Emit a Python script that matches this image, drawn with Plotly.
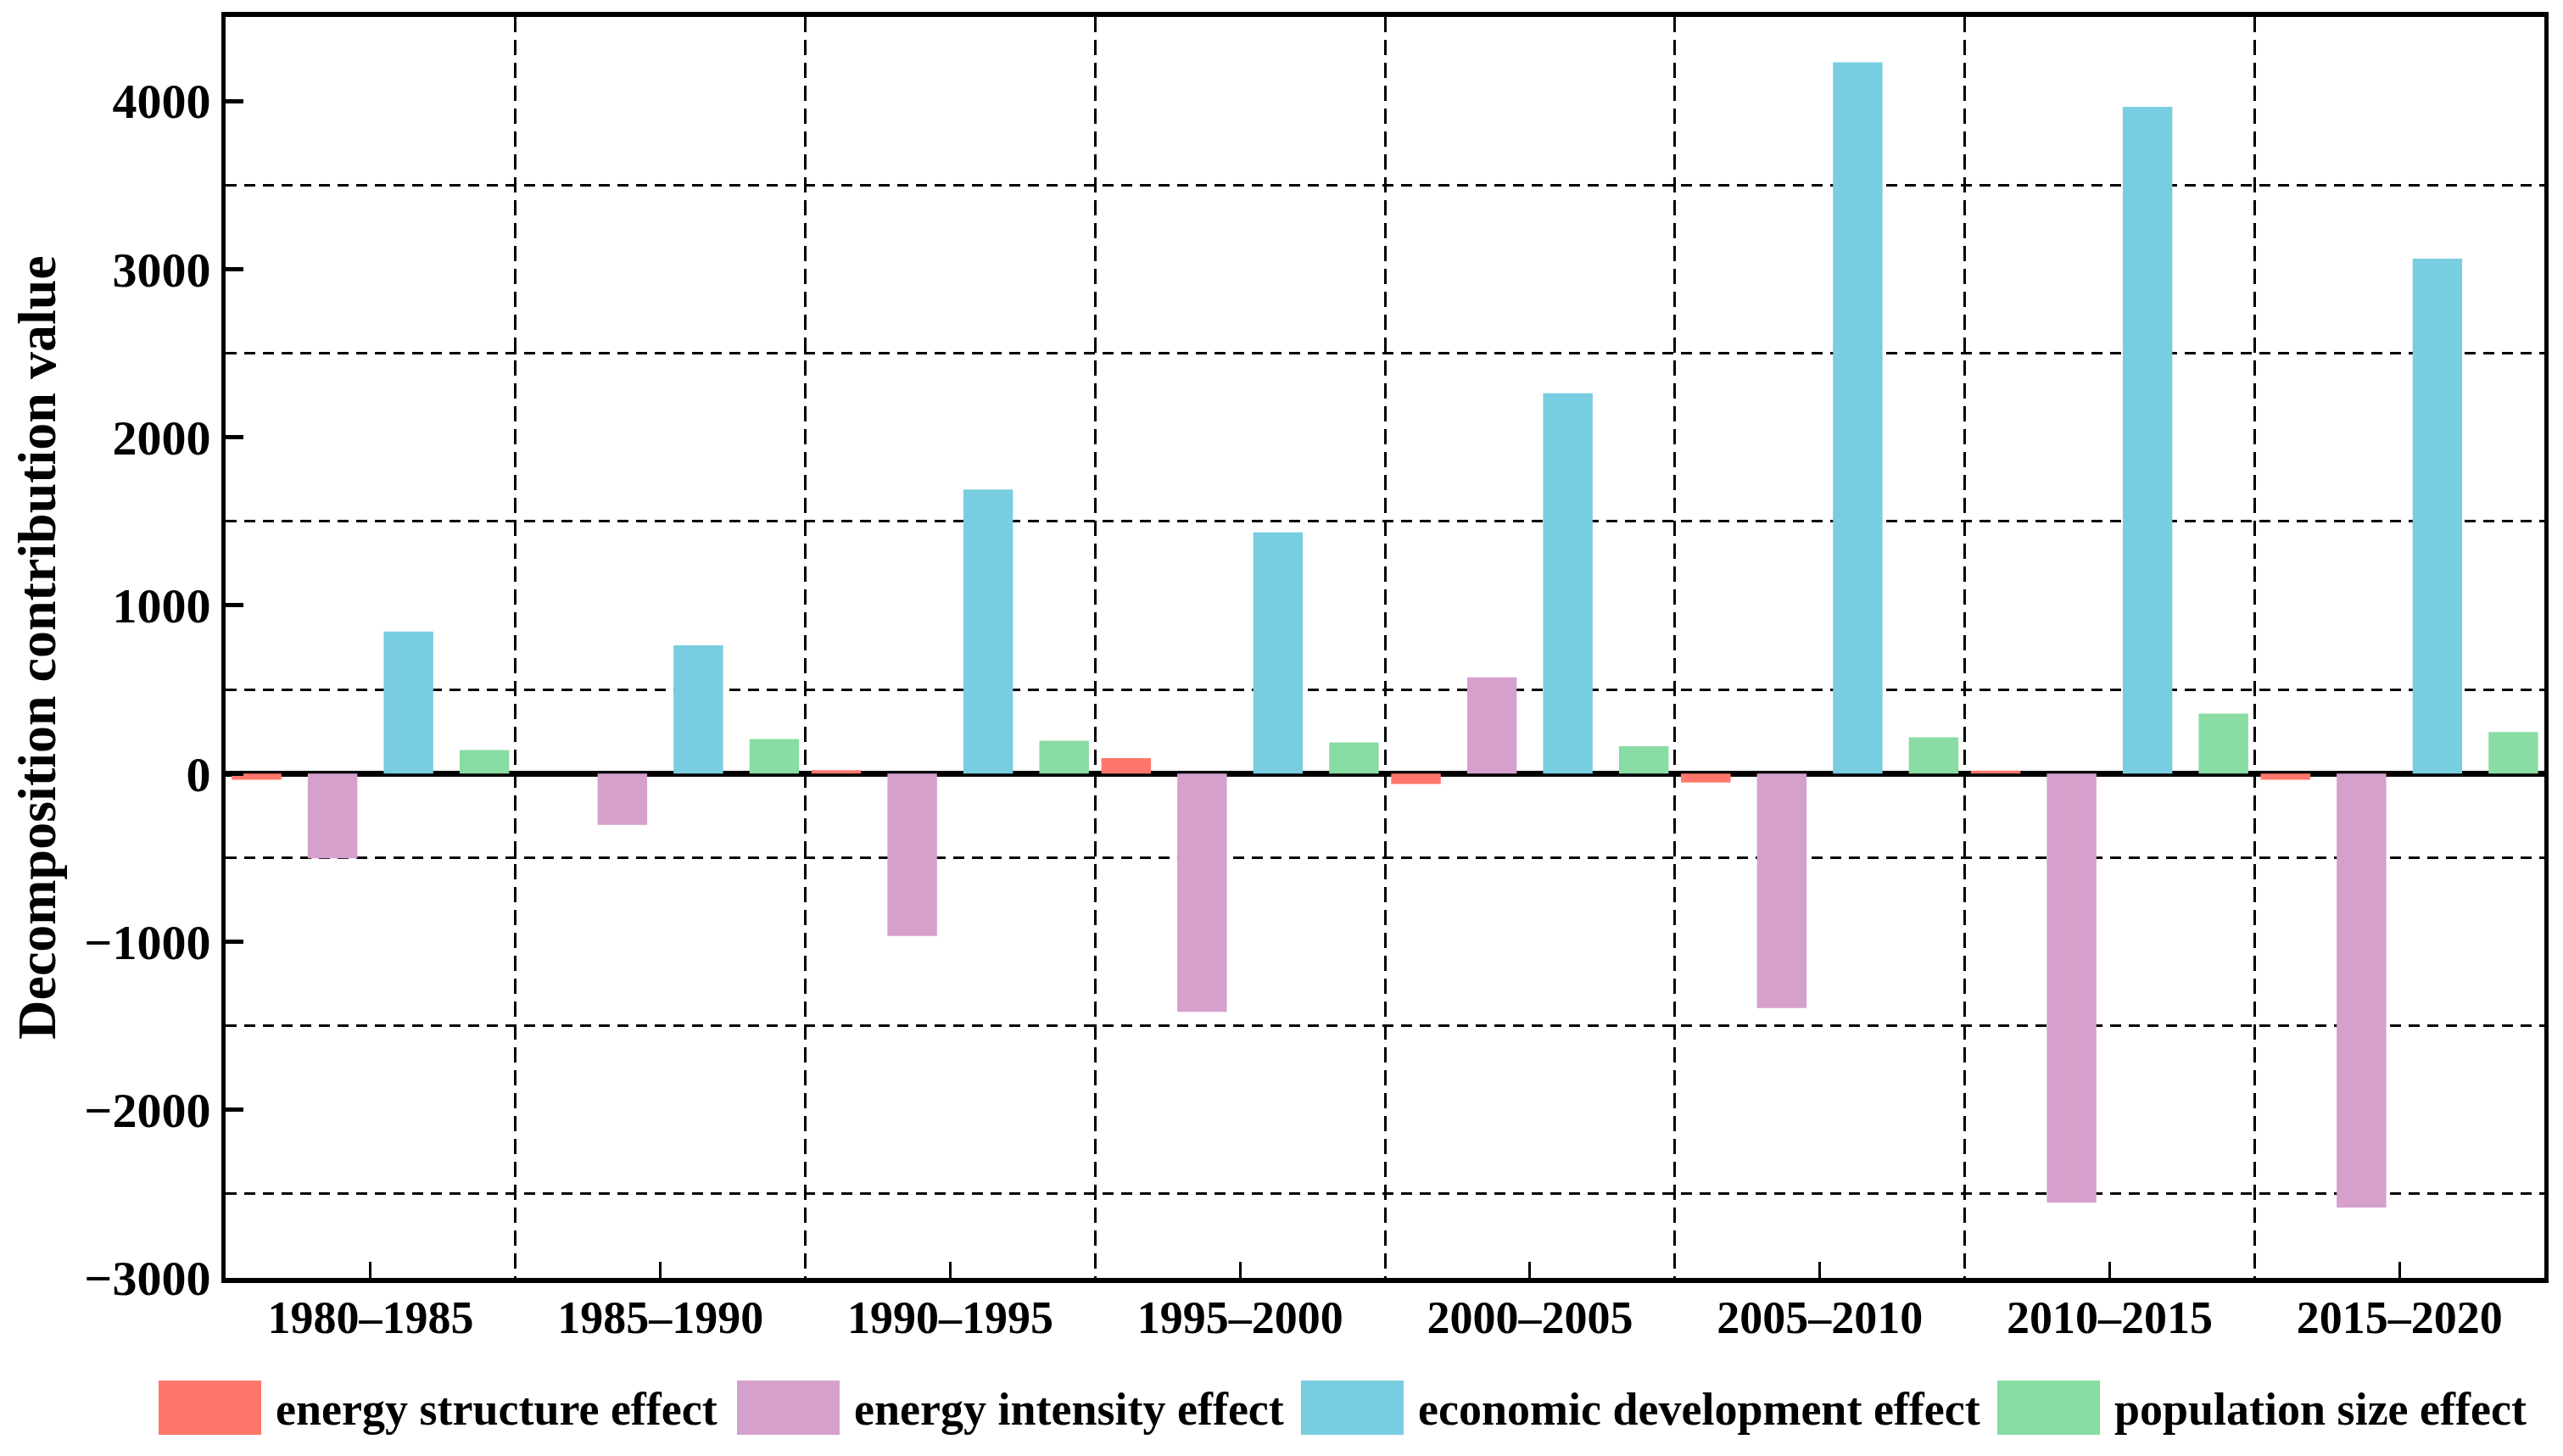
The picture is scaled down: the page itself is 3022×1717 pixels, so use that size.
import plotly.graph_objects as go

# ---------------- data ----------------
categories = ["1980–1985", "1985–1990", "1990–1995", "1995–2000",
              "2000–2005", "2005–2010", "2010–2015", "2015–2020"]
series_names = ["energy structure effect", "energy intensity effect",
                "economic development effect", "population size effect"]
energy_structure = [-37, 0, 20, 92, -62, -53, 17, -37]
energy_intensity = [-504, -306, -966, -1418, 572, -1395, -2552, -2582]
economic_development = [844, 763, 1690, 1435, 2262, 4230, 3965, 3062]
population_size = [140, 205, 195, 185, 162, 215, 357, 247]
y_tick_values = [-3000, -2000, -1000, 0, 1000, 2000, 3000, 4000]

series_values = [energy_structure, energy_intensity, economic_development, population_size]

# ---------------- style ----------------
colors = ["#FF776B", "#D6A0CD", "#79CDE1", "#89DCA3"]
FONT = "Liberation Serif"
OFF = 8                      # default page (body) margin of the html page
W, H = 3022 - 2 * OFF, 1717 - 2 * OFF
# plot area in screen pixels (as in the reference)
PL, PR, PT, PB = 266, 3000, 20, 1507
ML, MT = PL - OFF, PT - OFF
MR, MB = W - (PR - OFF), H - (PB - OFF)
PW, PH = PR - PL, PB - PT

bar_width = 0.171
bar_step = 0.262

x_idx = list(range(len(categories)))

fig = go.Figure()
n = len(series_values)
for i, (name, vals, col) in enumerate(zip(series_names, series_values, colors)):
    center = (i - (n - 1) / 2) * bar_step
    fig.add_trace(go.Bar(
        x=x_idx, y=vals, name=name,
        width=bar_width, offset=center - bar_width / 2,
        marker=dict(color=col, line=dict(width=0)),
        showlegend=False,
    ))

# custom legend (large colour boxes like the reference), screen px -> paper
def px_x(px):
    return (px - PL) / PW

def px_y(py):
    return (PB - py) / PH

box_left = [187, 869, 1534, 2355]
box_w, box_top, box_bot = 121, 1628, 1692
shapes = []
annotations = []
for bl, name, col in zip(box_left, series_names, colors):
    shapes.append(dict(type="rect", xref="paper", yref="paper",
                       x0=px_x(bl), x1=px_x(bl + box_w),
                       y0=px_y(box_bot), y1=px_y(box_top),
                       fillcolor=col, line=dict(width=0), layer="above"))
    annotations.append(dict(xref="paper", yref="paper",
                            x=px_x(bl + box_w + 15), y=px_y((box_top + box_bot) / 2 + 2),
                            xanchor="left", yanchor="middle", showarrow=False,
                            text=name,
                            font=dict(family=FONT, size=54, color="black", weight="bold")))

fig.update_layout(
    width=W, height=H, autosize=False,
    margin=dict(l=ML, r=MR, t=MT, b=MB, pad=0, autoexpand=False),
    paper_bgcolor="white", plot_bgcolor="white",
    barmode="overlay",
    shapes=shapes, annotations=annotations,
    showlegend=False,
    font=dict(family=FONT, color="black", weight="bold"),
)

fig.update_xaxes(
    automargin=False,
    range=[-0.5, len(categories) - 0.5],
    tickmode="array", tickvals=x_idx, ticktext=categories,
    ticks="inside", ticklen=19, tickwidth=3, tickcolor="black",
    tickfont=dict(family=FONT, size=54, color="black", weight="bold"),
    ticklabelstandoff=-6,
    showline=True, linewidth=6, linecolor="black", mirror=True,
    showgrid=False, zeroline=False,
    minor=dict(tick0=0.5, dtick=1, showgrid=True, gridcolor="black",
               gridwidth=2.5, griddash="18px,9px", ticks=""),
)

fig.update_yaxes(
    automargin=False,
    range=[-3000, 4500],
    tickmode="array", tickvals=y_tick_values,
    ticktext=[str(v).replace("-", "−") for v in y_tick_values],
    ticks="inside", ticklen=21, tickwidth=5, tickcolor="black",
    tickfont=dict(family=FONT, size=58, color="black", weight="bold"),
    ticklabelstandoff=1,
    showline=True, linewidth=5, linecolor="black", mirror=True,
    showgrid=False,
    zeroline=True, zerolinewidth=7, zerolinecolor="black",
    minor=dict(tick0=500, dtick=1000, showgrid=True, gridcolor="black",
               gridwidth=2.8, griddash="13px,9px", ticks=""),
    title=dict(text="Decomposition contribution value", standoff=57,
               font=dict(family=FONT, size=64, color="black", weight="bold")),
)

fig.write_html("out.html")
